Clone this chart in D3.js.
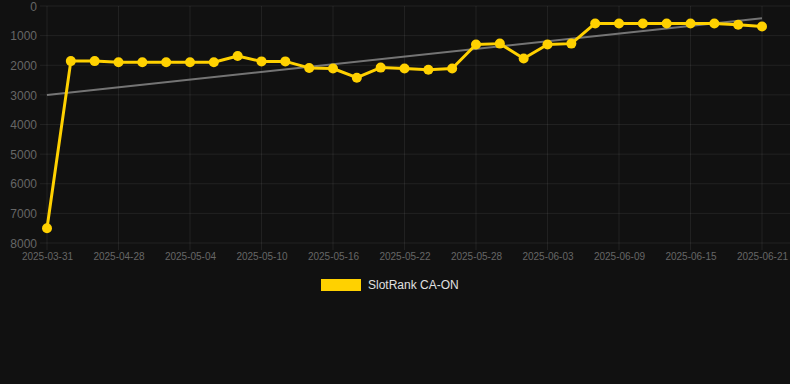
<!DOCTYPE html>
<html><head><meta charset="utf-8">
<script src="https://cdn.jsdelivr.net/npm/d3@7/dist/d3.min.js"></script>
<style>
html,body{margin:0;padding:0;background:#111111;}
svg{display:block;font-family:"Liberation Sans",Arial,Helvetica,sans-serif;}
</style></head>
<body>
<svg id="c" width="790" height="384"></svg>
<script>
const dates = ["2025-03-31","2025-04-24","2025-04-26","2025-04-28","2025-04-30","2025-05-02","2025-05-04","2025-05-06","2025-05-08","2025-05-10","2025-05-12","2025-05-14","2025-05-16","2025-05-18","2025-05-20","2025-05-22","2025-05-24","2025-05-26","2025-05-28","2025-05-30","2025-06-01","2025-06-03","2025-06-05","2025-06-07","2025-06-09","2025-06-11","2025-06-13","2025-06-15","2025-06-17","2025-06-19","2025-06-21"];
const ranks = [7500,1860,1860,1900,1900,1900,1900,1900,1690,1870,1870,2090,2110,2420,2080,2110,2150,2110,1300,1270,1770,1300,1270,590,590,590,590,590,590,630,690];
const yTicks = [0,1000,2000,3000,4000,5000,6000,7000,8000];
const xTickLabels = ["2025-03-31","2025-04-28","2025-05-04","2025-05-10","2025-05-16","2025-05-22","2025-05-28","2025-06-03","2025-06-09","2025-06-15","2025-06-21"];
const seriesName = "SlotRank CA-ON";

const svg = d3.select("#c");
const L = 47, R = 762, T = 6, B = 243;
const x = d3.scalePoint().domain(dates).range([L, R]);
const y = d3.scaleLinear().domain([0, 8000]).range([T, B]);

// grid
const grid = svg.append("g");
grid.selectAll("line.h").data(yTicks).enter().append("line")
  .attr("x1", L - 7).attr("x2", 790).attr("y1", d => y(d)).attr("y2", d => y(d))
  .attr("stroke", "rgba(255,255,255,0.07)").attr("stroke-width", 1);
grid.selectAll("line.v").data(xTickLabels).enter().append("line")
  .attr("x1", d => x(d)).attr("x2", d => x(d)).attr("y1", T).attr("y2", B + 7)
  .attr("stroke", "rgba(255,255,255,0.07)").attr("stroke-width", 1);

// y axis
const yAxis = d3.axisLeft(y).tickValues(yTicks).tickSize(0).tickPadding(0).tickFormat(d3.format("d"));
const ga = svg.append("g").attr("transform", `translate(${L - 10},0)`).call(yAxis);
ga.select(".domain").remove();
ga.selectAll("text").attr("fill", "#666").style("font-size", "12px").attr("dy", "0.35em");

// x axis
const xAxis = d3.axisBottom(x).tickValues(xTickLabels).tickSize(0).tickPadding(0);
const gx = svg.append("g").attr("transform", `translate(0,${B + 10})`).call(xAxis);
gx.select(".domain").remove();
gx.selectAll("text").attr("fill", "#666").style("font-size", "10px").attr("dy", "0.71em");

// trend line (least squares on the series)
const n = ranks.length;
const xs = d3.range(n);
const mx = d3.mean(xs), my = d3.mean(ranks);
const slope = d3.sum(xs, i => (i - mx) * (ranks[i] - my)) / d3.sum(xs, i => (i - mx) ** 2);
const icpt = my - slope * mx;
svg.append("line")
  .attr("x1", x(dates[0])).attr("y1", y(icpt))
  .attr("x2", x(dates[n - 1])).attr("y2", y(icpt + slope * (n - 1)))
  .attr("stroke", "rgba(150,150,150,0.75)").attr("stroke-width", 2);

// series
const line = d3.line().x((d, i) => x(dates[i])).y(d => y(d));
svg.append("path").datum(ranks).attr("d", line)
  .attr("fill", "none").attr("stroke", "#FFD100").attr("stroke-width", 3).attr("stroke-linejoin", "round");
svg.selectAll("circle.p").data(ranks).enter().append("circle")
  .attr("cx", (d, i) => x(dates[i])).attr("cy", d => y(d)).attr("r", 5)
  .attr("fill", "#FFD100");

// legend
const lg = svg.append("g");
lg.append("rect").attr("x", 321).attr("y", 279).attr("width", 40).attr("height", 12).attr("fill", "#FFD100");
lg.append("text").attr("x", 368).attr("y", 285).attr("dy", "0.35em").attr("fill", "#e0e0e0")
  .style("font-size", "12px").text(seriesName);
</script>
</body></html>
